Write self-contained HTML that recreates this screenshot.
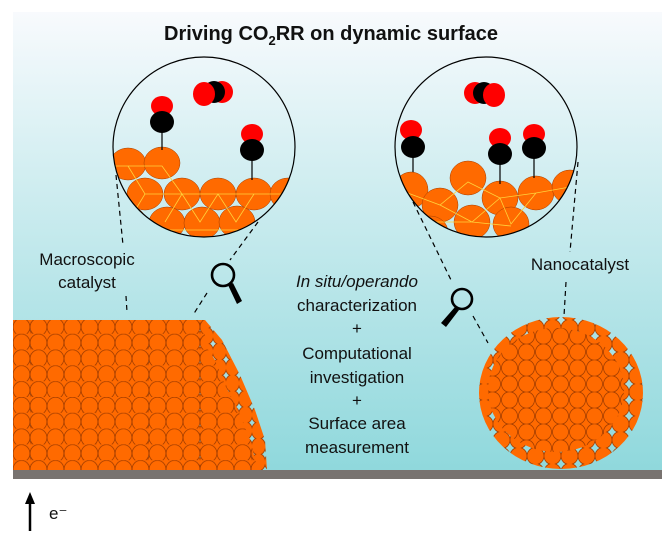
<!DOCTYPE html>
<html><head><meta charset="utf-8"><style>
html,body{margin:0;padding:0;background:#fff;}
svg{display:block;}
text{font-family:"Liberation Sans",Arial,sans-serif;fill:#111;}
</style></head><body>
<svg width="662" height="538" viewBox="0 0 662 538" xmlns="http://www.w3.org/2000/svg">
<defs>
<linearGradient id="bg" x1="0" y1="0" x2="0" y2="1">
<stop offset="0" stop-color="#f8fafd"/>
<stop offset="0.35" stop-color="#d2eef1"/>
<stop offset="1" stop-color="#8fd8dc"/>
</linearGradient>
<pattern id="grid" x="13" y="318" width="17" height="15.8" patternUnits="userSpaceOnUse">
<ellipse cx="8.5" cy="9" rx="8.4" ry="8.8" fill="#ff6a00" stroke="#a33d00" stroke-width="0.8"/>
</pattern>
<pattern id="side" x="5" y="312" width="13" height="15.8" patternUnits="userSpaceOnUse">
<ellipse cx="6.5" cy="8" rx="7" ry="8.6" fill="#ff6a00" stroke="#a33d00" stroke-width="0.8"/>
</pattern>
<pattern id="nano1" x="0" y="0" width="17" height="16" patternUnits="userSpaceOnUse">
<ellipse cx="8.5" cy="8" rx="8.5" ry="8.6" fill="#ff6a00" stroke="#a33d00" stroke-width="0.8"/>
</pattern>
<pattern id="nano2" x="8" y="8" width="17" height="16" patternUnits="userSpaceOnUse">
<ellipse cx="8.5" cy="8" rx="8" ry="8.2" fill="#ff6a00" stroke="#a33d00" stroke-width="0.8"/>
</pattern>
<clipPath id="cl"><ellipse cx="204" cy="147" rx="91" ry="90"/></clipPath>
<clipPath id="cr"><ellipse cx="486" cy="147" rx="91" ry="90"/></clipPath>
<clipPath id="cn"><ellipse cx="561" cy="393" rx="82" ry="76"/></clipPath>
<clipPath id="cn2"><ellipse cx="556" cy="390" rx="68" ry="62"/></clipPath>
</defs>
<rect x="13" y="12" width="649" height="460" fill="url(#bg)"/>
<rect x="13" y="470" width="649" height="9" fill="#787370"/>
<text x="331" y="40" font-size="20" font-weight="bold" text-anchor="middle">Driving CO<tspan font-size="13" dy="5">2</tspan><tspan dy="-5">RR on dynamic surface</tspan></text>

<polygon points="13,320 205,320 222,340 240,375 255,410 265,440 267,470 13,470" fill="url(#side)"/>
<polygon points="13,320 205,320 205,345 215,360 225,385 238,410 250,440 258,470 13,470" fill="url(#grid)"/>

<g clip-path="url(#cn)"><rect x="470" y="310" width="180" height="165" fill="url(#nano1)"/></g>
<g clip-path="url(#cn2)"><rect x="470" y="310" width="180" height="165" fill="url(#nano2)"/></g>

<g clip-path="url(#cl)" stroke="#a33d00" stroke-width="0.5" fill="#ff6a00">
<ellipse cx="128" cy="164" rx="18" ry="16"/><ellipse cx="162" cy="163" rx="18" ry="16"/>
<ellipse cx="145" cy="194" rx="18" ry="16"/><ellipse cx="182" cy="194" rx="18" ry="16"/><ellipse cx="218" cy="194" rx="18" ry="16"/><ellipse cx="254" cy="194" rx="18" ry="16"/><ellipse cx="288" cy="194" rx="18" ry="16"/>
<ellipse cx="128" cy="222" rx="18" ry="16"/><ellipse cx="167" cy="223" rx="18" ry="16"/><ellipse cx="202" cy="223" rx="18" ry="16"/><ellipse cx="237" cy="222" rx="18" ry="16"/>
<g stroke="#ffd23a" stroke-width="0.8" fill="none"><path d="M115,166 H162 L182,194 L165,222 M128,166 L145,194 L128,222 M145,194 H290 M182,194 L200,222 L218,194 L236,222 L254,194 M110,230 H255"/></g>
</g>
<ellipse cx="204" cy="147" rx="91" ry="90" fill="none" stroke="#000" stroke-width="1.2"/>
<line x1="162" y1="122" x2="162" y2="150" stroke="#000" stroke-width="1.2"/>
<ellipse cx="162" cy="106" rx="11" ry="10" fill="#ff0000"/><ellipse cx="162" cy="122" rx="12" ry="11" fill="#000"/>
<line x1="252" y1="150" x2="252" y2="180" stroke="#000" stroke-width="1.2"/>
<ellipse cx="252" cy="134" rx="11" ry="10" fill="#ff0000"/><ellipse cx="252" cy="150" rx="12" ry="11" fill="#000"/>
<ellipse cx="222" cy="92" rx="11" ry="11" fill="#ff0000"/><ellipse cx="214" cy="92" rx="11" ry="11" fill="#000"/><ellipse cx="204" cy="94" rx="11" ry="12" fill="#ff0000"/>

<g clip-path="url(#cr)" stroke="#a33d00" stroke-width="0.5" fill="#ff6a00">
<ellipse cx="411" cy="190" rx="17" ry="18"/><ellipse cx="468" cy="178" rx="18" ry="17"/><ellipse cx="440" cy="205" rx="18" ry="17"/>
<ellipse cx="500" cy="198" rx="18" ry="17"/><ellipse cx="536" cy="193" rx="18" ry="17"/><ellipse cx="570" cy="187" rx="18" ry="17"/>
<ellipse cx="472" cy="222" rx="18" ry="17"/><ellipse cx="511" cy="224" rx="18" ry="17"/><ellipse cx="430" cy="232" rx="18" ry="16"/>
<g stroke="#ffd23a" stroke-width="0.8" fill="none"><path d="M405,192 L440,205 L468,182 L500,198 L536,193 L570,187 M440,205 L472,222 L500,198 L511,224 L536,193 M420,222 L472,222 L511,226"/></g>
</g>
<ellipse cx="486" cy="147" rx="91" ry="90" fill="none" stroke="#000" stroke-width="1.2"/>
<line x1="413" y1="147" x2="413" y2="172" stroke="#000" stroke-width="1.2"/>
<ellipse cx="411" cy="130" rx="11" ry="10" fill="#ff0000"/><ellipse cx="413" cy="147" rx="12" ry="11" fill="#000"/>
<line x1="500" y1="153" x2="500" y2="184" stroke="#000" stroke-width="1.2"/>
<ellipse cx="500" cy="138" rx="11" ry="10" fill="#ff0000"/><ellipse cx="500" cy="154" rx="12" ry="11" fill="#000"/>
<line x1="534" y1="147" x2="534" y2="178" stroke="#000" stroke-width="1.2"/>
<ellipse cx="534" cy="134" rx="11" ry="10" fill="#ff0000"/><ellipse cx="534" cy="148" rx="12" ry="11" fill="#000"/>
<ellipse cx="475" cy="93" rx="11" ry="11" fill="#ff0000"/><ellipse cx="484" cy="93" rx="11" ry="11" fill="#000"/><ellipse cx="494" cy="95" rx="11" ry="12" fill="#ff0000"/>

<g stroke="#000" stroke-width="1.2" stroke-dasharray="5,4" fill="none">
<path d="M116,175 L123,245"/>
<path d="M126,296 L127,312"/>
<path d="M258,222 L230,260"/>
<path d="M207,293 L193,315"/>
<path d="M413,202 L452,282"/>
<path d="M473,316 L488,343"/>
<path d="M578,162 L570,252"/>
<path d="M566,282 L564,316"/>
</g>
<circle cx="223" cy="275" r="11" fill="none" stroke="#000" stroke-width="2.6"/>
<polygon points="228,285 233,283 242,301 237,304" fill="#000"/>
<circle cx="462" cy="299" r="10" fill="none" stroke="#000" stroke-width="2.6"/>
<polygon points="455,307 459,310 446,327 441,323" fill="#000"/>

<g font-size="17">
<text x="87" y="265" text-anchor="middle">Macroscopic</text>
<text x="87" y="288" text-anchor="middle">catalyst</text>
<text x="580" y="270" text-anchor="middle">Nanocatalyst</text>
<g text-anchor="middle">
<text x="357" y="287"><tspan font-style="italic">In situ/operando</tspan></text>
<text x="357" y="311">characterization</text>
<text x="357" y="334">+</text>
<text x="357" y="359">Computational</text>
<text x="357" y="383">investigation</text>
<text x="357" y="406">+</text>
<text x="357" y="429">Surface area</text>
<text x="357" y="453">measurement</text>
</g>
<text x="49" y="519">e⁻</text>
</g>
<line x1="30" y1="531" x2="30" y2="500" stroke="#000" stroke-width="2.5"/>
<polygon points="30,492 25,504 35,504" fill="#000"/>
</svg>
</body></html>
